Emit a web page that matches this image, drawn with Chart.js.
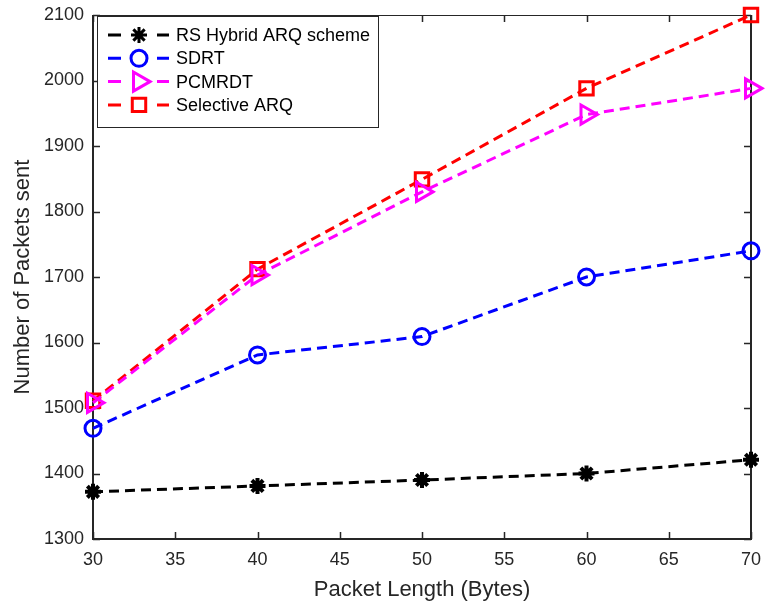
<!DOCTYPE html>
<html>
<head>
<meta charset="utf-8">
<script src="https://cdn.jsdelivr.net/npm/chart.js@4.4.0/dist/chart.umd.min.js"></script>
<style>
  body { margin: 0; background: #fff; }
  #wrap { width: 765px; height: 607px; }
</style>
</head>
<body>
<div id="wrap"><canvas id="c" width="765" height="607"></canvas></div>
<script>
// packet lengths on the x axis
const packetLen = [30, 40, 50, 60, 70];
const rsHybrid = [1372, 1381, 1390, 1400, 1421];
const sdrt = [1469, 1581, 1609, 1700, 1740];
const pcmrdt = [1508, 1703, 1830, 1948, 1988];
const selective = [1511, 1712, 1849, 1988, 2100];
const xTicks = [30, 35, 40, 45, 50, 55, 60, 65, 70];
const yTicks = [1300, 1400, 1500, 1600, 1700, 1800, 1900, 2000, 2100];

const axisCol = '#262626';
const fam = '"Liberation Sans", Arial, sans-serif';

function pts(ys) {
  return packetLen.map((x, i) => ({ x: x, y: ys[i] }));
}

function series(label, ys, color, style, radius, bg, bw, rot) {
  return {
    label: label,
    data: pts(ys),
    borderColor: color,
    borderWidth: 3,
    borderDash: [10, 6],
    pointStyle: style,
    pointRadius: radius,
    pointBorderColor: color,
    pointBackgroundColor: bg,
    pointBorderWidth: bw,
    pointRotation: rot || 0,
    tension: 0,
    fill: false,
    clip: false
  };
}

// frame + inward ticks like matlab axes, plus the legend box
const framePlugin = {
  id: 'frame',
  beforeDatasetsDraw(chart) {
    const ctx = chart.ctx;
    const a = chart.chartArea;
    const xs = chart.scales.x, ys = chart.scales.y;
    ctx.save();
    ctx.strokeStyle = axisCol;
    ctx.setLineDash([]);
    ctx.lineWidth = 1;
    ctx.strokeRect(a.left + 0.5, a.top + 0.5, a.right - a.left - 1, a.bottom - a.top - 1);
    ctx.lineWidth = 2;
    ctx.beginPath();
    ctx.moveTo(a.left, a.top); ctx.lineTo(a.left, a.bottom);
    ctx.lineTo(a.right, a.bottom); ctx.lineTo(a.right, a.top);
    ctx.stroke();
    ctx.lineWidth = 1.5;
    const tl = 7;
    xTicks.forEach(v => {
      const px = Math.round(xs.getPixelForValue(v)) + 0.5;
      ctx.beginPath();
      ctx.moveTo(px, a.bottom); ctx.lineTo(px, a.bottom - tl);
      ctx.moveTo(px, a.top); ctx.lineTo(px, a.top + tl);
      ctx.stroke();
    });
    yTicks.forEach(v => {
      const py = Math.round(ys.getPixelForValue(v)) + 0.5;
      ctx.beginPath();
      ctx.moveTo(a.left, py); ctx.lineTo(a.left + tl, py);
      ctx.moveTo(a.right, py); ctx.lineTo(a.right - tl, py);
      ctx.stroke();
    });
    ctx.restore();
  },
  afterDraw(chart) {
    const ctx = chart.ctx;
    ctx.save();
    const bx = 97, by = 16, bw = 281, bh = 111;
    ctx.fillStyle = '#fff';
    ctx.fillRect(bx, by, bw, bh);
    ctx.lineWidth = 1;
    ctx.strokeStyle = axisCol;
    ctx.strokeRect(bx + 0.5, by + 0.5, bw, bh);
    ctx.font = '18px ' + fam;
    ctx.textBaseline = 'middle';
    chart.data.datasets.forEach((ds, i) => {
      const yy = 35 + i * 23.3;
      ctx.strokeStyle = ds.borderColor;
      ctx.lineWidth = 3;
      ctx.setLineDash([]);
      ctx.beginPath();
      ctx.moveTo(108, yy); ctx.lineTo(121, yy);
      ctx.moveTo(157, yy); ctx.lineTo(169, yy);
      ctx.stroke();
      ctx.fillStyle = ds.pointBackgroundColor;
      Chart.helpers.drawPoint(ctx, {
        pointStyle: ds.pointStyle,
        rotation: ds.pointRotation,
        radius: ds.pointRadius,
        borderWidth: ds.pointBorderWidth
      }, 139, yy);
      ctx.fillStyle = '#000';
      ctx.fillText(ds.label, 176, yy + 1);
    });
    ctx.restore();
  }
};

new Chart(document.getElementById('c'), {
  type: 'line',
  data: {
    datasets: [
      series('RS Hybrid ARQ scheme', rsHybrid, '#000000', 'star', 8, '#000000', 4),
      series('SDRT', sdrt, '#0000ff', 'circle', 8, 'rgba(0,0,0,0)', 3),
      series('PCMRDT', pcmrdt, '#ff00ff', 'triangle', 11, 'rgba(0,0,0,0)', 3, 90),
      series('Selective ARQ', selective, '#ff0000', 'rect', 9.5, 'rgba(0,0,0,0)', 3)
    ]
  },
  options: {
    responsive: false,
    animation: false,
    layout: { padding: { left: 0, right: 11, top: 15, bottom: 0 } },
    plugins: { legend: { display: false }, tooltip: { enabled: false } },
    scales: {
      x: {
        type: 'linear',
        min: 30, max: 70,
        afterBuildTicks(s) { s.ticks = xTicks.map(v => ({ value: v })); },
        afterFit(s) { s.height = 68; s.paddingLeft = 0; s.paddingRight = 0; },
        grid: { display: false, drawTicks: false },
        border: { display: false },
        ticks: { color: axisCol, padding: 10, maxRotation: 0, callback: v => String(v),
          font: { family: fam, size: 18 } },
        title: { display: true, text: 'Packet Length (Bytes)', color: axisCol, padding: { top: 1 },
          font: { family: fam, size: 22 } }
      },
      y: {
        min: 1300, max: 2100,
        afterBuildTicks(s) { s.ticks = yTicks.map(v => ({ value: v })); },
        afterFit(s) { s.width = 93; s.paddingTop = 0; s.paddingBottom = 0; },
        grid: { display: false, drawTicks: false },
        border: { display: false },
        ticks: { color: axisCol, padding: 9, callback: v => String(v),
          font: { family: fam, size: 18 } },
        title: { display: true, text: 'Number of Packets sent', color: axisCol, padding: { top: 10, bottom: 4 },
          font: { family: fam, size: 22 } }
      }
    }
  },
  plugins: [framePlugin]
});
</script>
</body>
</html>
